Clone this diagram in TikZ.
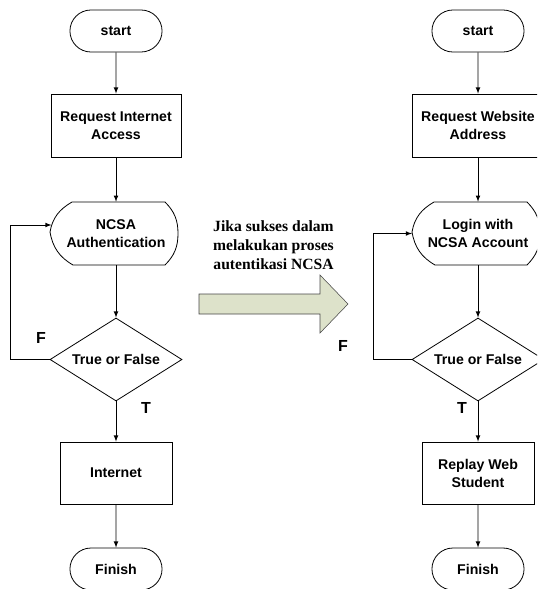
\documentclass[tikz,border=0pt]{standalone}
\usepackage{fontspec}
\setmainfont{Liberation Sans}
\newfontfamily\timesfont{Liberation Serif}
\usetikzlibrary{shapes.geometric,shapes.misc}
\definecolor{arrowfill}{RGB}{221,226,202}
\definecolor{arrowline}{RGB}{70,70,70}

\begin{document}
\begin{tikzpicture}[x=0.75pt,y=-0.75pt,>=latex,
    term/.style={rounded rectangle,draw,semithick,minimum width=75.75pt,minimum height=31.5pt,font=\fontsize{10.6}{13.5}\selectfont\bfseries},
    box/.style={rectangle,draw,semithick,minimum width=97.5pt,minimum height=47.25pt,align=center,font=\fontsize{10.6}{13.5}\selectfont\bfseries},
    disp/.style={rectangle,minimum width=97.5pt,minimum height=47.25pt,align=center,font=\fontsize{10.6}{13.5}\selectfont\bfseries},
    decision/.style={diamond,draw,semithick,aspect=1.6,inner sep=0pt,minimum width=99pt,minimum height=62.25pt,font=\fontsize{10.6}{13.5}\selectfont\bfseries},
    tflabel/.style={font=\fontsize{12}{14}\selectfont\bfseries}]
    \clip (0,0) rectangle (537,589);
    %left flow
    \node[term] (start1) at (116,31) {start};
    \node[box] (req1) at (116,125.5) {Request Internet\\Access};
    \node[disp] (auth1) at (116,233.5) {NCSA\\Authentication};
    \draw[semithick] ([shift={(-44,-31.5)}]auth1.center) -- ([shift={(49,-31.5)}]auth1.center) to[out=-45,in=90] ([shift={(62,0)}]auth1.center) to[out=-90,in=45] ([shift={(49,31.5)}]auth1.center) -- ([shift={(-43,31.5)}]auth1.center) to[out=150,in=-80] ([shift={(-66,-1.5)}]auth1.center) to[out=80,in=210] cycle;
    \node[decision] (tf1) at (116,359.5) {True or False};
    \node[box,minimum width=84pt,minimum height=46.5pt] (net1) at (116,473) {Internet};
    \node[term] (fin1) at (116,569) {Finish};
    \coordinate (loop1) at (10,359.5);
    \node[tflabel] (f1) at (41,338) {F};
    \node[tflabel] (t1) at (146,408) {T};
    \draw[semithick] [->] (start1) -- (req1);
    \draw[semithick] [->] (req1) -- (auth1);
    \draw[semithick] [->] (auth1) -- (tf1);
    \draw[semithick] [->] (tf1) -- (net1);
    \draw[semithick] [->] (net1) -- (fin1);
    \draw[semithick] [->] (tf1.west) -- (loop1) |- ([shift={(-64.5,-8.5)}]auth1.center);
    %middle
    \node[font=\timesfont\fontsize{11.7}{14.25}\selectfont\bfseries,align=center] (note) at (273.5,245) {Jika sukses dalam\\melakukan proses\\autentikasi NCSA};
    \draw[arrowline,fill=arrowfill] (199,294) -- (320,294) -- (320,275) -- (348,304) -- (320,333) -- (320,314) -- (199,314) -- cycle;
    %right flow
    \node[term] (start2) at (478,31) {start};
    \node[box,minimum width=99pt] (req2) at (478,125.5) {Request Website\\Address};
    \node[disp] (auth2) at (478,233.5) {Login with\\NCSA Account};
    \draw[semithick] ([shift={(-44,-31.5)}]auth2.center) -- ([shift={(49,-31.5)}]auth2.center) to[out=-45,in=90] ([shift={(62,0)}]auth2.center) to[out=-90,in=45] ([shift={(49,31.5)}]auth2.center) -- ([shift={(-43,31.5)}]auth2.center) to[out=150,in=-80] ([shift={(-66,-1.5)}]auth2.center) to[out=80,in=210] cycle;
    \node[decision] (tf2) at (478,359.5) {True or False};
    \node[box,minimum width=84pt,minimum height=46.5pt] (rep2) at (478,473) {Replay Web\\Student};
    \node[term] (fin2) at (478,569) {Finish};
    \coordinate (loop2) at (373,359.5);
    \node[tflabel] (f2) at (343,346) {F};
    \node[tflabel] (t2) at (462,408) {T};
    \draw[semithick] [->] (start2) -- (req2);
    \draw[semithick] [->] (req2) -- (auth2);
    \draw[semithick] [->] (auth2) -- (tf2);
    \draw[semithick] [->] (tf2) -- (rep2);
    \draw[semithick] [->] (rep2) -- (fin2);
    \draw[semithick] [->] (tf2.west) -- (loop2) |- ([shift={(-66,0)}]auth2.center);
\end{tikzpicture}
\end{document}
